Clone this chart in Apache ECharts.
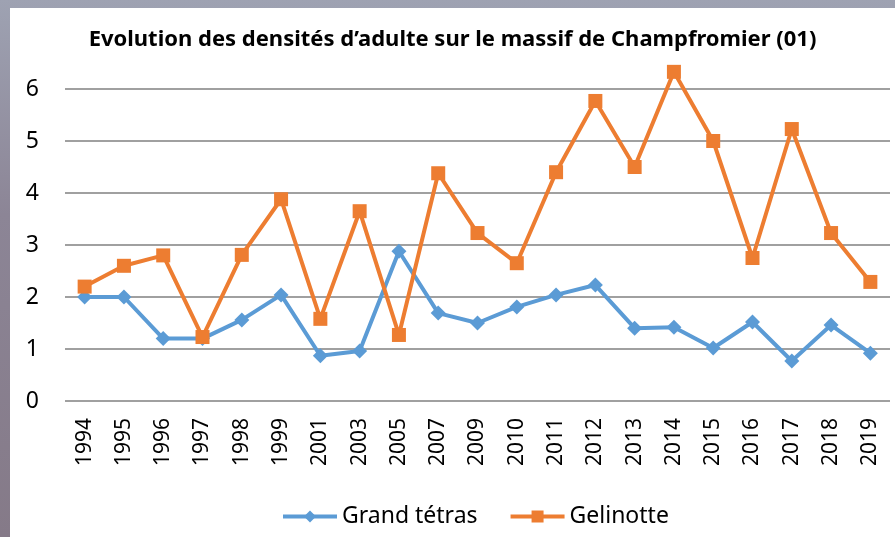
<!DOCTYPE html>
<html>
<head>
<meta charset="utf-8">
<script src="https://cdn.jsdelivr.net/npm/echarts@6/dist/echarts.min.js"></script>
<style>
  html, body { margin: 0; padding: 0; }
  body {
    width: 895px; height: 537px; overflow: hidden; position: relative;
    background: linear-gradient(180deg, #9ea2b2 0%, #8c8596 40%, #857a88 100%);
  }
  #chart { position: absolute; left: 10px; top: 8px; width: 885px; height: 529px; background: #fff; }
</style>
</head>
<body>
<div id="chart"></div>
<script>
// années
const years = ['1994', '1995', '1996', '1997', '1998', '1999', '2001', '2003', '2005', '2007',
  '2009', '2010', '2011', '2012', '2013', '2014', '2015', '2016', '2017', '2018', '2019']
// densités
const grandTetras = [2.0, 2.0, 1.2, 1.2, 1.56, 2.04, 0.87, 0.96, 2.88, 1.69,
  1.5, 1.81, 2.04, 2.23, 1.4, 1.42, 1.02, 1.52, 0.77, 1.46, 0.92]
const gelinotte = [2.2, 2.6, 2.8, 1.23, 2.81, 3.88, 1.58, 3.65, 1.27, 4.38,
  3.23, 2.65, 4.4, 5.77, 4.5, 6.33, 5.0, 2.75, 5.23, 3.23, 2.29]
const yTicks = [0, 1, 2, 3, 4, 5, 6]

const font = 'Noto Sans'
const chart = echarts.init(document.getElementById('chart'))
chart.setOption({
  animation: false,
  title: {
    text: 'Evolution des densités d’adulte sur le massif de Champfromier (01)',
    left: 'center',
    top: 16,
    textStyle: { fontFamily: font, fontSize: 22, fontWeight: 'bold', color: '#000' }
  },
  legend: {
    left: 266,
    top: 492,
    itemWidth: 54,
    itemHeight: 15,
    itemGap: 31,
    lineStyle: { width: 4 },
    textStyle: { fontFamily: font, fontSize: 23, color: '#000' },
    data: ['Grand tétras', 'Gelinotte']
  },
  grid: { left: 55, right: 5, top: 81, bottom: 136 },
  xAxis: {
    type: 'category',
    data: years,
    boundaryGap: true,
    axisLine: { show: false },
    axisTick: { show: false },
    axisLabel: { rotate: 90, margin: 17, fontFamily: font, fontSize: 21, color: '#000', interval: 0 }
  },
  yAxis: {
    type: 'value',
    min: yTicks[0],
    max: yTicks[yTicks.length - 1],
    interval: 1,
    axisLine: { show: false },
    axisTick: { show: false },
    axisLabel: { margin: 26, fontFamily: font, fontSize: 23, color: '#000' },
    splitLine: { lineStyle: { color: '#a0a0a0', width: 2 } }
  },
  series: [
    {
      name: 'Grand tétras',
      type: 'line',
      data: grandTetras,
      clip: false,
      symbol: 'diamond',
      symbolSize: 15,
      lineStyle: { width: 4, color: '#5b9bd5' },
      itemStyle: { color: '#5b9bd5' }
    },
    {
      name: 'Gelinotte',
      type: 'line',
      data: gelinotte,
      clip: false,
      symbol: 'rect',
      symbolSize: 14,
      lineStyle: { width: 4, color: '#ed7d31' },
      itemStyle: { color: '#ed7d31' }
    }
  ]
})
</script>
</body>
</html>
